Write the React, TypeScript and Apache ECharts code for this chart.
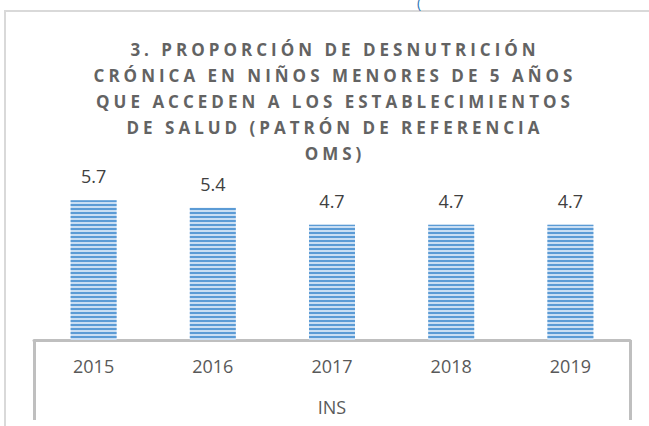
import React, { useEffect, useRef } from "react";
import * as echarts from "echarts";

const titleLines = [
  "3. PROPORCIÓN DE DESNUTRICIÓN",
  "CRÓNICA EN NIÑOS MENORES DE 5 AÑOS",
  "QUE ACCEDEN A LOS ESTABLECIMIENTOS",
  "DE SALUD (PATRÓN DE REFERENCIA",
  "OMS)",
];
const years = ["2015", "2016", "2017", "2018", "2019"];
const values = [5.7, 5.4, 4.7, 4.7, 4.7];
const groupLabel = ["INS"];

export default function App() {
  const ref = useRef<HTMLDivElement>(null);
  useEffect(() => {
    if (!ref.current) return;
    const chart = echarts.init(ref.current, null, { renderer: "svg" });
    chart.setOption({
      animation: false,
      backgroundColor: "#ffffff",
      title: {
        text: titleLines.join("\n"),
        left: 330,
        top: 31,
        textAlign: "center",
        textStyle: {
          fontFamily: "Open Sans",
          fontSize: 17,
          fontWeight: "bold",
          color: "#636363",
          lineHeight: 26,
        },
      },
      graphic: [
        {
          type: "rect",
          shape: { x: 5, y: 11, width: 700, height: 500 },
          style: { fill: "none", stroke: "#d9d9d9", lineWidth: 2 },
          silent: true,
        },
        {
          type: "text",
          x: 417,
          y: -5,
          style: { text: "(", fontSize: 14, fill: "#2e75b6", fontFamily: "Open Sans" },
        },
      ],
      grid: { left: 34, right: 19, top: 193, bottom: 86 },
      yAxis: { type: "value", min: 0, max: 6, show: false },
      xAxis: [
        {
          type: "category",
          data: years,
          position: "bottom",
          axisLine: { show: true, lineStyle: { color: "#bfbfbf", width: 3 } },
          axisTick: { show: false },
          axisLabel: { fontSize: 18, color: "#595959", margin: 17, fontFamily: "Open Sans" },
        },
        {
          type: "category",
          data: groupLabel,
          position: "bottom",
          offset: 0,
          axisLine: { show: false },
          axisTick: { show: true, length: 80, lineStyle: { color: "#bfbfbf", width: 3 } },
          axisLabel: { fontSize: 18, color: "#595959", margin: 58, fontFamily: "Open Sans" },
        },
      ],
      series: [
        {
          type: "bar",
          data: values,
          xAxisIndex: 0,
          barWidth: 46,
          itemStyle: {
            color: "#c9def3",
            decal: {
              symbol: "rect",
              symbolSize: 1,
              dashArrayX: [1, 0],
              dashArrayY: [2, 2],
              rotation: 0,
              color: "#5b9bd5",
            },
          },
          label: {
            show: true,
            position: "top",
            distance: 15,
            fontSize: 18,
            color: "#404040",
            fontFamily: "Open Sans",
          },
        },
      ],
    });
    const texts = ref.current.querySelectorAll("text");
    texts.forEach((t) => {
      const c = (t.textContent || "").trim();
      if (titleLines.includes(c)) {
        (t as SVGTextElement).style.letterSpacing = "4px";
      }
    });
    return () => chart.dispose();
  }, []);
  return (
    <div
      ref={ref}
      style={{ position: "fixed", left: 0, top: 0, width: 649, height: 426 }}
    />
  );
}
